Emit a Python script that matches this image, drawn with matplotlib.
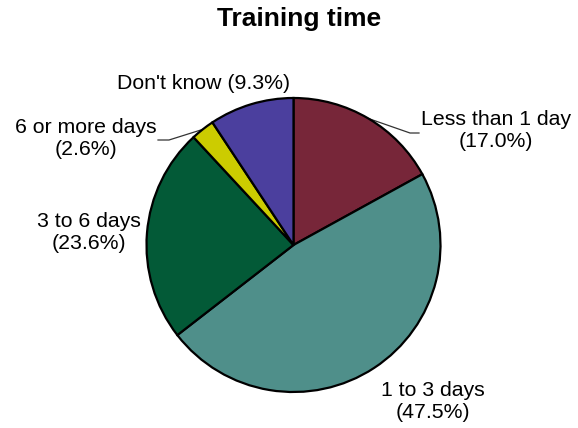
import numpy as np
import matplotlib.pyplot as plt

plt.rcParams['font.family'] = ['Liberation Sans', 'DejaVu Sans']

# Training time shares, clockwise from 12 o'clock
categories = ["Less than 1 day", "1 to 3 days", "3 to 6 days", "6 or more days", "Don't know"]
shares = [17.0, 47.5, 23.6, 2.6, 9.3]
colors = ["#772639", "#4f8f8a", "#035a37", "#cccc00", "#4b3f9e"]

W, H = 578, 428
fig = plt.figure(figsize=(W / 100, H / 100), dpi=100)
ax = fig.add_axes([0, 0, 1, 1])

cx, cy, r = 293.5, H - 245, 147
ax.pie(shares, colors=colors, startangle=90, counterclock=False,
       center=(cx, cy), radius=r, frame=True,
       wedgeprops=dict(edgecolor='black', linewidth=1.6))
ax.set_xlim(0, W)
ax.set_ylim(0, H)
ax.set_aspect('equal')
ax.axis('off')

# label anchors (pixel coords from top-left) and optional leader elbow
label_pos = [(496, 130), (433, 402), (89, 232), (86, 138), (204, 83)]
leaders = {0: [(410, 133), (419, 133)], 3: [(169, 140), (158, 140)]}

cum = np.cumsum([0] + shares[:-1])
for i, (name, v) in enumerate(zip(categories, shares)):
    text = f"{name} ({v:.1f}%)" if name == "Don't know" else f"{name}\n({v:.1f}%)"
    x, y = label_pos[i]
    ax.text(x, H - y, text, ha='center', va='center', fontsize=15.3,
            linespacing=1.2, color='black')
    if i in leaders:
        ang = np.deg2rad(90 - (cum[i] + v / 2) * 3.6)
        px, py = cx + r * np.cos(ang), cy + r * np.sin(ang)
        pts = [(px, py)] + [(a, H - b) for a, b in leaders[i]]
        ax.plot([p[0] for p in pts], [p[1] for p in pts], color='#333333',
                linewidth=0.9, zorder=0.5)

fig.text(299 / W, 1 - 19 / H, "Training time", ha='center', va='center',
         fontsize=19, fontweight='bold')

fig.savefig('out.png', dpi=100)
